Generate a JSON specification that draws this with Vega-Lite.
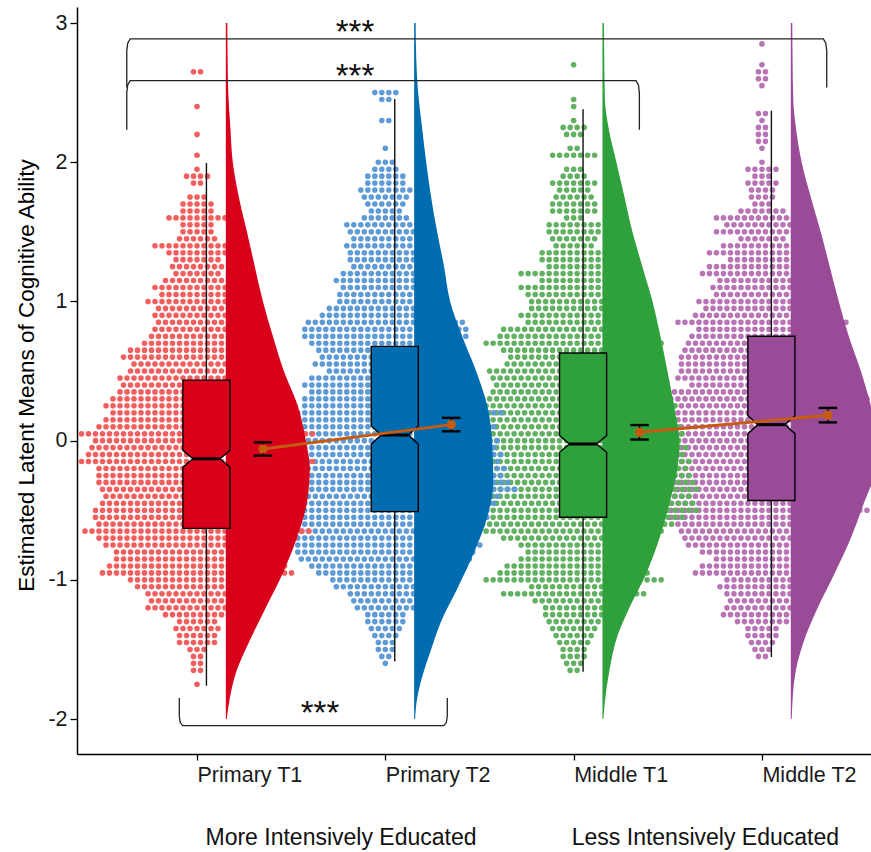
{
"$schema":"https://vega.github.io/schema/vega-lite/v6.json",
"width":794,"height":747,
"autosize":{"type":"none"},
"padding":{"left":77,"top":7,"right":0,"bottom":98},
"background":"white",
"config":{"view":{"stroke":null},"font":"Liberation Sans"},
"datasets":{
"dots":[
{"g":"Middle T2","y":2.85,"n":1},{"g":"Middle T2","y":2.7,"n":1},{"g":"Middle T2","y":2.65,"n":2},{"g":"Middle T2","y":2.6,"n":2},{"g":"Middle T2","y":2.55,"n":1},{"g":"Middle T2","y":2.35,"n":2},{"g":"Middle T2","y":2.3,"n":1},{"g":"Middle T2","y":2.25,"n":2},{"g":"Middle T2","y":2.2,"n":2},{"g":"Middle T2","y":2.15,"n":2},{"g":"Middle T2","y":2.1,"n":1},{"g":"Middle T2","y":2.0,"n":1},{"g":"Middle T2","y":1.95,"n":5},{"g":"Middle T2","y":1.9,"n":3},{"g":"Middle T2","y":1.85,"n":5},{"g":"Middle T2","y":1.8,"n":4},{"g":"Middle T2","y":1.75,"n":4},{"g":"Middle T2","y":1.7,"n":3},{"g":"Middle T2","y":1.65,"n":7},{"g":"Middle T2","y":1.6,"n":14},{"g":"Middle T2","y":1.55,"n":11},{"g":"Middle T2","y":1.5,"n":14},{"g":"Middle T2","y":1.45,"n":7},{"g":"Middle T2","y":1.4,"n":12},{"g":"Middle T2","y":1.35,"n":16},{"g":"Middle T2","y":1.3,"n":10},{"g":"Middle T2","y":1.25,"n":16},{"g":"Middle T2","y":1.2,"n":18},{"g":"Middle T2","y":1.15,"n":13},{"g":"Middle T2","y":1.1,"n":15},{"g":"Middle T2","y":1.05,"n":14},{"g":"Middle T2","y":1.0,"n":19},{"g":"Middle T2","y":0.95,"n":17},{"g":"Middle T2","y":0.9,"n":20},{"g":"Middle T2","y":0.85,"n":25},{"g":"Middle T2","y":0.8,"n":19},{"g":"Middle T2","y":0.75,"n":21},{"g":"Middle T2","y":0.7,"n":22},{"g":"Middle T2","y":0.65,"n":23},{"g":"Middle T2","y":0.6,"n":24},{"g":"Middle T2","y":0.55,"n":24},{"g":"Middle T2","y":0.5,"n":24},{"g":"Middle T2","y":0.45,"n":25},{"g":"Middle T2","y":0.4,"n":21},{"g":"Middle T2","y":0.35,"n":28},{"g":"Middle T2","y":0.3,"n":31},{"g":"Middle T2","y":0.25,"n":28},{"g":"Middle T2","y":0.2,"n":29},{"g":"Middle T2","y":0.15,"n":29},{"g":"Middle T2","y":0.1,"n":30},{"g":"Middle T2","y":0.05,"n":30},{"g":"Middle T2","y":0.0,"n":31},{"g":"Middle T2","y":-0.05,"n":30},{"g":"Middle T2","y":-0.1,"n":31},{"g":"Middle T2","y":-0.15,"n":30},{"g":"Middle T2","y":-0.2,"n":31},{"g":"Middle T2","y":-0.25,"n":30},{"g":"Middle T2","y":-0.3,"n":30},{"g":"Middle T2","y":-0.35,"n":29},{"g":"Middle T2","y":-0.4,"n":30},{"g":"Middle T2","y":-0.45,"n":29},{"g":"Middle T2","y":-0.5,"n":31},{"g":"Middle T2","y":-0.55,"n":27},{"g":"Middle T2","y":-0.6,"n":25},{"g":"Middle T2","y":-0.65,"n":24},{"g":"Middle T2","y":-0.7,"n":23},{"g":"Middle T2","y":-0.75,"n":22},{"g":"Middle T2","y":-0.8,"n":18},{"g":"Middle T2","y":-0.85,"n":14},{"g":"Middle T2","y":-0.9,"n":18},{"g":"Middle T2","y":-0.95,"n":20},{"g":"Middle T2","y":-1.0,"n":11},{"g":"Middle T2","y":-1.05,"n":13},{"g":"Middle T2","y":-1.1,"n":11},{"g":"Middle T2","y":-1.15,"n":10},{"g":"Middle T2","y":-1.2,"n":11},{"g":"Middle T2","y":-1.25,"n":12},{"g":"Middle T2","y":-1.3,"n":8},{"g":"Middle T2","y":-1.35,"n":5},{"g":"Middle T2","y":-1.4,"n":5},{"g":"Middle T2","y":-1.45,"n":4},{"g":"Middle T2","y":-1.5,"n":3},{"g":"Middle T2","y":-1.55,"n":2},
{"g":"Middle T1","y":2.7,"n":1},{"g":"Middle T1","y":2.45,"n":1},{"g":"Middle T1","y":2.4,"n":1},{"g":"Middle T1","y":2.3,"n":1},{"g":"Middle T1","y":2.25,"n":4},{"g":"Middle T1","y":2.2,"n":3},{"g":"Middle T1","y":2.1,"n":2},{"g":"Middle T1","y":2.05,"n":7},{"g":"Middle T1","y":1.95,"n":3},{"g":"Middle T1","y":1.9,"n":4},{"g":"Middle T1","y":1.85,"n":7},{"g":"Middle T1","y":1.8,"n":5},{"g":"Middle T1","y":1.75,"n":6},{"g":"Middle T1","y":1.7,"n":7},{"g":"Middle T1","y":1.65,"n":7},{"g":"Middle T1","y":1.6,"n":3},{"g":"Middle T1","y":1.55,"n":8},{"g":"Middle T1","y":1.5,"n":8},{"g":"Middle T1","y":1.45,"n":7},{"g":"Middle T1","y":1.4,"n":6},{"g":"Middle T1","y":1.35,"n":10},{"g":"Middle T1","y":1.3,"n":10},{"g":"Middle T1","y":1.25,"n":8},{"g":"Middle T1","y":1.2,"n":16},{"g":"Middle T1","y":1.15,"n":10},{"g":"Middle T1","y":1.1,"n":16},{"g":"Middle T1","y":1.05,"n":14},{"g":"Middle T1","y":1.0,"n":13},{"g":"Middle T1","y":0.95,"n":13},{"g":"Middle T1","y":0.9,"n":16},{"g":"Middle T1","y":0.85,"n":14},{"g":"Middle T1","y":0.8,"n":21},{"g":"Middle T1","y":0.75,"n":22},{"g":"Middle T1","y":0.7,"n":26},{"g":"Middle T1","y":0.65,"n":21},{"g":"Middle T1","y":0.6,"n":19},{"g":"Middle T1","y":0.55,"n":20},{"g":"Middle T1","y":0.5,"n":25},{"g":"Middle T1","y":0.45,"n":24},{"g":"Middle T1","y":0.4,"n":23},{"g":"Middle T1","y":0.35,"n":24},{"g":"Middle T1","y":0.3,"n":27},{"g":"Middle T1","y":0.25,"n":30},{"g":"Middle T1","y":0.2,"n":29},{"g":"Middle T1","y":0.15,"n":30},{"g":"Middle T1","y":0.1,"n":31},{"g":"Middle T1","y":0.05,"n":32},{"g":"Middle T1","y":0.0,"n":31},{"g":"Middle T1","y":-0.05,"n":33},{"g":"Middle T1","y":-0.1,"n":32},{"g":"Middle T1","y":-0.15,"n":34},{"g":"Middle T1","y":-0.2,"n":33},{"g":"Middle T1","y":-0.25,"n":34},{"g":"Middle T1","y":-0.3,"n":35},{"g":"Middle T1","y":-0.35,"n":36},{"g":"Middle T1","y":-0.4,"n":34},{"g":"Middle T1","y":-0.45,"n":35},{"g":"Middle T1","y":-0.5,"n":36},{"g":"Middle T1","y":-0.55,"n":32},{"g":"Middle T1","y":-0.6,"n":29},{"g":"Middle T1","y":-0.65,"n":26},{"g":"Middle T1","y":-0.7,"n":21},{"g":"Middle T1","y":-0.75,"n":16},{"g":"Middle T1","y":-0.8,"n":14},{"g":"Middle T1","y":-0.85,"n":16},{"g":"Middle T1","y":-0.9,"n":20},{"g":"Middle T1","y":-0.95,"n":22},{"g":"Middle T1","y":-1.0,"n":26},{"g":"Middle T1","y":-1.05,"n":13},{"g":"Middle T1","y":-1.1,"n":21},{"g":"Middle T1","y":-1.15,"n":12},{"g":"Middle T1","y":-1.2,"n":9},{"g":"Middle T1","y":-1.25,"n":9},{"g":"Middle T1","y":-1.3,"n":8},{"g":"Middle T1","y":-1.35,"n":7},{"g":"Middle T1","y":-1.4,"n":6},{"g":"Middle T1","y":-1.45,"n":5},{"g":"Middle T1","y":-1.5,"n":4},{"g":"Middle T1","y":-1.55,"n":4},{"g":"Middle T1","y":-1.6,"n":3},{"g":"Middle T1","y":-1.65,"n":2},
{"g":"Primary T2","y":2.5,"n":4},{"g":"Primary T2","y":2.45,"n":2},{"g":"Primary T2","y":2.3,"n":2},{"g":"Primary T2","y":2.1,"n":1},{"g":"Primary T2","y":2.0,"n":3},{"g":"Primary T2","y":1.95,"n":4},{"g":"Primary T2","y":1.9,"n":6},{"g":"Primary T2","y":1.85,"n":6},{"g":"Primary T2","y":1.8,"n":8},{"g":"Primary T2","y":1.75,"n":7},{"g":"Primary T2","y":1.7,"n":6},{"g":"Primary T2","y":1.65,"n":5},{"g":"Primary T2","y":1.6,"n":7},{"g":"Primary T2","y":1.55,"n":12},{"g":"Primary T2","y":1.5,"n":11},{"g":"Primary T2","y":1.45,"n":10},{"g":"Primary T2","y":1.4,"n":12},{"g":"Primary T2","y":1.35,"n":11},{"g":"Primary T2","y":1.3,"n":11},{"g":"Primary T2","y":1.25,"n":10},{"g":"Primary T2","y":1.2,"n":13},{"g":"Primary T2","y":1.15,"n":15},{"g":"Primary T2","y":1.1,"n":13},{"g":"Primary T2","y":1.05,"n":14},{"g":"Primary T2","y":1.0,"n":14},{"g":"Primary T2","y":0.95,"n":17},{"g":"Primary T2","y":0.9,"n":19},{"g":"Primary T2","y":0.85,"n":23},{"g":"Primary T2","y":0.8,"n":24},{"g":"Primary T2","y":0.75,"n":24},{"g":"Primary T2","y":0.7,"n":22},{"g":"Primary T2","y":0.65,"n":20},{"g":"Primary T2","y":0.6,"n":19},{"g":"Primary T2","y":0.55,"n":21},{"g":"Primary T2","y":0.5,"n":17},{"g":"Primary T2","y":0.45,"n":22},{"g":"Primary T2","y":0.4,"n":24},{"g":"Primary T2","y":0.35,"n":22},{"g":"Primary T2","y":0.3,"n":24},{"g":"Primary T2","y":0.25,"n":24},{"g":"Primary T2","y":0.2,"n":34},{"g":"Primary T2","y":0.15,"n":30},{"g":"Primary T2","y":0.1,"n":32},{"g":"Primary T2","y":0.05,"n":30},{"g":"Primary T2","y":0.0,"n":33},{"g":"Primary T2","y":-0.05,"n":32},{"g":"Primary T2","y":-0.1,"n":34},{"g":"Primary T2","y":-0.15,"n":33},{"g":"Primary T2","y":-0.2,"n":35},{"g":"Primary T2","y":-0.25,"n":34},{"g":"Primary T2","y":-0.3,"n":36},{"g":"Primary T2","y":-0.35,"n":38},{"g":"Primary T2","y":-0.4,"n":33},{"g":"Primary T2","y":-0.45,"n":32},{"g":"Primary T2","y":-0.5,"n":30},{"g":"Primary T2","y":-0.55,"n":30},{"g":"Primary T2","y":-0.6,"n":28},{"g":"Primary T2","y":-0.65,"n":27},{"g":"Primary T2","y":-0.7,"n":26},{"g":"Primary T2","y":-0.75,"n":28},{"g":"Primary T2","y":-0.8,"n":26},{"g":"Primary T2","y":-0.85,"n":25},{"g":"Primary T2","y":-0.9,"n":22},{"g":"Primary T2","y":-0.95,"n":20},{"g":"Primary T2","y":-1.0,"n":16},{"g":"Primary T2","y":-1.05,"n":15},{"g":"Primary T2","y":-1.1,"n":11},{"g":"Primary T2","y":-1.15,"n":10},{"g":"Primary T2","y":-1.2,"n":9},{"g":"Primary T2","y":-1.25,"n":6},{"g":"Primary T2","y":-1.3,"n":6},{"g":"Primary T2","y":-1.35,"n":5},{"g":"Primary T2","y":-1.4,"n":4},{"g":"Primary T2","y":-1.45,"n":3},{"g":"Primary T2","y":-1.5,"n":3},{"g":"Primary T2","y":-1.55,"n":2},{"g":"Primary T2","y":-1.6,"n":1},
{"g":"Primary T1","y":2.65,"n":2},{"g":"Primary T1","y":2.4,"n":1},{"g":"Primary T1","y":2.2,"n":1},{"g":"Primary T1","y":2.05,"n":1},{"g":"Primary T1","y":1.95,"n":1},{"g":"Primary T1","y":1.9,"n":4},{"g":"Primary T1","y":1.85,"n":2},{"g":"Primary T1","y":1.75,"n":3},{"g":"Primary T1","y":1.7,"n":5},{"g":"Primary T1","y":1.65,"n":5},{"g":"Primary T1","y":1.6,"n":9},{"g":"Primary T1","y":1.55,"n":5},{"g":"Primary T1","y":1.5,"n":5},{"g":"Primary T1","y":1.45,"n":6},{"g":"Primary T1","y":1.4,"n":13},{"g":"Primary T1","y":1.35,"n":9},{"g":"Primary T1","y":1.3,"n":7},{"g":"Primary T1","y":1.25,"n":8},{"g":"Primary T1","y":1.2,"n":7},{"g":"Primary T1","y":1.15,"n":10},{"g":"Primary T1","y":1.1,"n":13},{"g":"Primary T1","y":1.05,"n":11},{"g":"Primary T1","y":1.0,"n":15},{"g":"Primary T1","y":0.95,"n":12},{"g":"Primary T1","y":0.9,"n":13},{"g":"Primary T1","y":0.85,"n":12},{"g":"Primary T1","y":0.8,"n":13},{"g":"Primary T1","y":0.75,"n":14},{"g":"Primary T1","y":0.7,"n":16},{"g":"Primary T1","y":0.65,"n":20},{"g":"Primary T1","y":0.6,"n":22},{"g":"Primary T1","y":0.55,"n":19},{"g":"Primary T1","y":0.5,"n":20},{"g":"Primary T1","y":0.45,"n":23},{"g":"Primary T1","y":0.4,"n":22},{"g":"Primary T1","y":0.35,"n":23},{"g":"Primary T1","y":0.3,"n":25},{"g":"Primary T1","y":0.25,"n":27},{"g":"Primary T1","y":0.2,"n":25},{"g":"Primary T1","y":0.15,"n":27},{"g":"Primary T1","y":0.1,"n":29},{"g":"Primary T1","y":0.05,"n":34},{"g":"Primary T1","y":0.0,"n":30},{"g":"Primary T1","y":-0.05,"n":31},{"g":"Primary T1","y":-0.1,"n":32},{"g":"Primary T1","y":-0.15,"n":34},{"g":"Primary T1","y":-0.2,"n":29},{"g":"Primary T1","y":-0.25,"n":29},{"g":"Primary T1","y":-0.3,"n":29},{"g":"Primary T1","y":-0.35,"n":28},{"g":"Primary T1","y":-0.4,"n":27},{"g":"Primary T1","y":-0.45,"n":28},{"g":"Primary T1","y":-0.5,"n":30},{"g":"Primary T1","y":-0.55,"n":30},{"g":"Primary T1","y":-0.6,"n":29},{"g":"Primary T1","y":-0.65,"n":33},{"g":"Primary T1","y":-0.7,"n":29},{"g":"Primary T1","y":-0.75,"n":27},{"g":"Primary T1","y":-0.8,"n":24},{"g":"Primary T1","y":-0.85,"n":24},{"g":"Primary T1","y":-0.9,"n":26},{"g":"Primary T1","y":-0.95,"n":28},{"g":"Primary T1","y":-1.0,"n":20},{"g":"Primary T1","y":-1.05,"n":18},{"g":"Primary T1","y":-1.1,"n":15},{"g":"Primary T1","y":-1.15,"n":14},{"g":"Primary T1","y":-1.2,"n":15},{"g":"Primary T1","y":-1.25,"n":10},{"g":"Primary T1","y":-1.3,"n":6},{"g":"Primary T1","y":-1.35,"n":7},{"g":"Primary T1","y":-1.4,"n":6},{"g":"Primary T1","y":-1.45,"n":6},{"g":"Primary T1","y":-1.5,"n":3},{"g":"Primary T1","y":-1.55,"n":2},{"g":"Primary T1","y":-1.6,"n":2},{"g":"Primary T1","y":-1.65,"n":2},{"g":"Primary T1","y":-1.75,"n":1}
],
"violin":[
{"g":"Primary T1","y":-2.0,"d":0.005},{"g":"Primary T1","y":-1.85,"d":0.021},{"g":"Primary T1","y":-1.65,"d":0.058},{"g":"Primary T1","y":-1.45,"d":0.122},{"g":"Primary T1","y":-1.2,"d":0.212},{"g":"Primary T1","y":-0.95,"d":0.303},{"g":"Primary T1","y":-0.7,"d":0.377},{"g":"Primary T1","y":-0.45,"d":0.43},{"g":"Primary T1","y":-0.2,"d":0.446},{"g":"Primary T1","y":0.0,"d":0.425},{"g":"Primary T1","y":0.25,"d":0.382},{"g":"Primary T1","y":0.5,"d":0.308},{"g":"Primary T1","y":0.75,"d":0.25},{"g":"Primary T1","y":1.0,"d":0.197},{"g":"Primary T1","y":1.25,"d":0.154},{"g":"Primary T1","y":1.5,"d":0.112},{"g":"Primary T1","y":1.75,"d":0.069},{"g":"Primary T1","y":2.0,"d":0.037},{"g":"Primary T1","y":2.25,"d":0.024},{"g":"Primary T1","y":2.5,"d":0.013},{"g":"Primary T1","y":2.75,"d":0.0095},{"g":"Primary T1","y":3.0,"d":0.008},
{"g":"Primary T2","y":-2.0,"d":0.005},{"g":"Primary T2","y":-1.85,"d":0.016},{"g":"Primary T2","y":-1.7,"d":0.042},{"g":"Primary T2","y":-1.5,"d":0.09},{"g":"Primary T2","y":-1.3,"d":0.143},{"g":"Primary T2","y":-1.05,"d":0.234},{"g":"Primary T2","y":-0.8,"d":0.319},{"g":"Primary T2","y":-0.55,"d":0.388},{"g":"Primary T2","y":-0.3,"d":0.42},{"g":"Primary T2","y":0.0,"d":0.414},{"g":"Primary T2","y":0.25,"d":0.388},{"g":"Primary T2","y":0.5,"d":0.329},{"g":"Primary T2","y":0.75,"d":0.255},{"g":"Primary T2","y":1.0,"d":0.191},{"g":"Primary T2","y":1.25,"d":0.159},{"g":"Primary T2","y":1.5,"d":0.122},{"g":"Primary T2","y":1.75,"d":0.09},{"g":"Primary T2","y":2.0,"d":0.064},{"g":"Primary T2","y":2.25,"d":0.042},{"g":"Primary T2","y":2.5,"d":0.021},{"g":"Primary T2","y":2.75,"d":0.011},{"g":"Primary T2","y":3.0,"d":0.008},
{"g":"Middle T1","y":-2.0,"d":0.005},{"g":"Middle T1","y":-1.9,"d":0.011},{"g":"Middle T1","y":-1.65,"d":0.037},{"g":"Middle T1","y":-1.4,"d":0.08},{"g":"Middle T1","y":-1.2,"d":0.143},{"g":"Middle T1","y":-0.95,"d":0.234},{"g":"Middle T1","y":-0.7,"d":0.303},{"g":"Middle T1","y":-0.45,"d":0.356},{"g":"Middle T1","y":-0.2,"d":0.398},{"g":"Middle T1","y":0.0,"d":0.409},{"g":"Middle T1","y":0.15,"d":0.393},{"g":"Middle T1","y":0.5,"d":0.345},{"g":"Middle T1","y":0.75,"d":0.308},{"g":"Middle T1","y":1.0,"d":0.266},{"g":"Middle T1","y":1.25,"d":0.212},{"g":"Middle T1","y":1.5,"d":0.159},{"g":"Middle T1","y":1.75,"d":0.117},{"g":"Middle T1","y":2.0,"d":0.074},{"g":"Middle T1","y":2.25,"d":0.032},{"g":"Middle T1","y":2.45,"d":0.013},{"g":"Middle T1","y":2.75,"d":0.0095},{"g":"Middle T1","y":3.0,"d":0.008},
{"g":"Middle T2","y":-2.0,"d":0.005},{"g":"Middle T2","y":-1.9,"d":0.008},{"g":"Middle T2","y":-1.65,"d":0.027},{"g":"Middle T2","y":-1.4,"d":0.08},{"g":"Middle T2","y":-1.2,"d":0.143},{"g":"Middle T2","y":-0.95,"d":0.234},{"g":"Middle T2","y":-0.7,"d":0.319},{"g":"Middle T2","y":-0.45,"d":0.388},{"g":"Middle T2","y":-0.2,"d":0.451},{"g":"Middle T2","y":0.0,"d":0.457},{"g":"Middle T2","y":0.25,"d":0.425},{"g":"Middle T2","y":0.5,"d":0.372},{"g":"Middle T2","y":0.75,"d":0.308},{"g":"Middle T2","y":1.0,"d":0.255},{"g":"Middle T2","y":1.25,"d":0.207},{"g":"Middle T2","y":1.5,"d":0.159},{"g":"Middle T2","y":1.75,"d":0.106},{"g":"Middle T2","y":2.0,"d":0.058},{"g":"Middle T2","y":2.25,"d":0.027},{"g":"Middle T2","y":2.45,"d":0.013},{"g":"Middle T2","y":2.75,"d":0.0095},{"g":"Middle T2","y":3.0,"d":0.008}
],
"box":[
{"g":"Primary T1","q1":-0.63,"q3":0.435,"med":-0.13,"lo":-1.76,"hi":1.995,"notch":0.06},
{"g":"Primary T2","q1":-0.51,"q3":0.677,"med":0.04,"lo":-1.585,"hi":2.455,"notch":0.065},
{"g":"Middle T1","q1":-0.55,"q3":0.63,"med":-0.024,"lo":-1.66,"hi":2.38,"notch":0.06},
{"g":"Middle T2","q1":-0.43,"q3":0.75,"med":0.115,"lo":-1.555,"hi":2.37,"notch":0.065}
],
"means":[
{"g":"Primary T1","edu":"More","mean":-0.06,"lo":-0.108,"hi":-0.012},
{"g":"Primary T2","edu":"More","mean":0.115,"lo":0.067,"hi":0.164},
{"g":"Middle T1","edu":"Less","mean":0.06,"lo":0.008,"hi":0.112},
{"g":"Middle T2","edu":"Less","mean":0.182,"lo":0.131,"hi":0.235}
],
"brackets":[
{"b":1,"o":1,"x":0.627,"y":2.536},{"b":1,"o":2,"x":0.627,"y":2.8},{"b":1,"o":3,"x":0.632,"y":2.855},{"b":1,"o":4,"x":0.645,"y":2.886},{"b":1,"o":5,"x":4.326,"y":2.886},{"b":1,"o":6,"x":4.339,"y":2.855},{"b":1,"o":7,"x":4.344,"y":2.8},{"b":1,"o":8,"x":4.344,"y":2.536},
{"b":2,"o":1,"x":0.627,"y":2.234},{"b":2,"o":2,"x":0.627,"y":2.5},{"b":2,"o":3,"x":0.632,"y":2.555},{"b":2,"o":4,"x":0.645,"y":2.586},{"b":2,"o":5,"x":3.331,"y":2.586},{"b":2,"o":6,"x":3.344,"y":2.555},{"b":2,"o":7,"x":3.349,"y":2.5},{"b":2,"o":8,"x":3.349,"y":2.234},
{"b":3,"o":1,"x":0.906,"y":-1.848},{"b":3,"o":2,"x":0.906,"y":-1.98},{"b":3,"o":3,"x":0.911,"y":-2.025},{"b":3,"o":4,"x":0.924,"y":-2.047},{"b":3,"o":5,"x":2.311,"y":-2.047},{"b":3,"o":6,"x":2.324,"y":-2.025},{"b":3,"o":7,"x":2.329,"y":-1.98},{"b":3,"o":8,"x":2.329,"y":-1.848}
],
"stars":[
{"label":"***","x":1.839,"y":2.859},{"label":"***","x":1.839,"y":2.543},{"label":"***","x":1.653,"y":-2.033}
],
"edu":[
{"label":"More Intensively Educated","x":1.045,"y":-2.902},{"label":"Less Intensively Educated","x":2.99,"y":-2.902}
]
},
"encoding":{
"x":{"field":"xp","type":"quantitative","scale":{"domain":[0.3627,4.579],"nice":false,"zero":false},
 "axis":{"values":[1,2,3,4],"labelExpr":"['Primary T1','Primary T2','Middle T1','Middle T2'][datum.value-1]","title":null,"grid":false,"labelAlign":"left","labelBaseline":"top","labelPadding":4,"tickSize":6,"tickColor":"#000","tickWidth":1.3,"domainColor":"#000","domainWidth":1.5,"labelFontSize":21.5,"labelColor":"#1a1a1a","labelFlush":false,"labelOverlap":false,"labelBound":false}},
"y":{"field":"yp","type":"quantitative","scale":{"domain":[-2.251,3.115],"nice":false,"zero":false},
 "axis":{"values":[-2,-1,0,1,2,3],"labelExpr":"'' + datum.value","title":"Estimated Latent Means of Cognitive Ability","titleFontSize":22.5,"titleFontWeight":"normal","titleColor":"#000","titleX":-44,"titleY":368,"titleBaseline":"alphabetic","grid":false,"tickSize":7,"tickColor":"#000","tickWidth":1.3,"domainColor":"#000","domainWidth":1.5,"labelFontSize":21.5,"labelColor":"#1a1a1a","labelPadding":3}}
},
"layer":[
{"data":{"name":"dots"},
 "transform":[
  {"calculate":"indexof(['Primary T1','Primary T2','Middle T1','Middle T2'], datum.g) + 1","as":"pos"},
  {"calculate":"datum.pos - (datum.n - 1) * 0.018588","as":"xp"},
  {"calculate":"datum.pos + (datum.n - 1) * 0.018588 + 0.0004","as":"xe"},
  {"calculate":"datum.y","as":"yp"}],
 "mark":{"type":"rule","strokeWidth":5.6,"strokeCap":"round","strokeDash":[0,7]},
 "encoding":{"x2":{"field":"xe"},"stroke":{"field":"g","type":"nominal","scale":{"domain":["Primary T1","Primary T2","Middle T1","Middle T2"],"range":["#f35f5f","#5e9bd6","#62b062","#b874b5"]},"legend":null}}},
{"data":{"name":"violin"},
 "transform":[
  {"calculate":"indexof(['Primary T1','Primary T2','Middle T1','Middle T2'], datum.g) + 1","as":"pos"},
  {"calculate":"datum.pos + 0.153","as":"xp"},
  {"calculate":"datum.pos + 0.153 + datum.d","as":"xe"},
  {"calculate":"datum.y","as":"yp"}],
 "mark":{"type":"area","orient":"horizontal","interpolate":"monotone","clip":true},
 "encoding":{"x2":{"field":"xe"},"color":{"field":"g","type":"nominal","scale":{"domain":["Primary T1","Primary T2","Middle T1","Middle T2"],"range":["#d9001b","#006cb0","#2ea03c","#994b98"]},"legend":null}}},
{"data":{"name":"box"},
 "transform":[
  {"calculate":"indexof(['Primary T1','Primary T2','Middle T1','Middle T2'], datum.g) + 1","as":"pos"},
  {"calculate":"datum.pos + 0.05","as":"xp"},
  {"calculate":"datum.lo","as":"yp"},
  {"calculate":"datum.hi","as":"ye"}],
 "mark":{"type":"rule","color":"#111","strokeWidth":1.4},
 "encoding":{"y2":{"field":"ye"}}},
{"data":{"name":"box"},
 "transform":[
  {"calculate":"indexof(['Primary T1','Primary T2','Middle T1','Middle T2'], datum.g) + 1","as":"pos"},
  {"calculate":"datum.med + datum.notch","as":"nhi"},
  {"calculate":"datum.med - datum.notch","as":"nlo"},
  {"fold":["q1","nlo","med","nhi","q3"]},
  {"calculate":"datum.key == 'med' ? 0.072 : 0.125","as":"hw"},
  {"calculate":"datum.pos + 0.05 - datum.hw","as":"xp"},
  {"calculate":"datum.pos + 0.05 + datum.hw","as":"xe"},
  {"calculate":"datum.value","as":"yp"}],
 "mark":{"type":"area","orient":"horizontal","interpolate":"linear","stroke":"#000","strokeWidth":1.4},
 "encoding":{"x2":{"field":"xe"},"color":{"field":"g","type":"nominal","legend":null}}},
{"data":{"name":"box"},
 "transform":[
  {"calculate":"indexof(['Primary T1','Primary T2','Middle T1','Middle T2'], datum.g) + 1","as":"pos"},
  {"calculate":"datum.pos + 0.05 - 0.072","as":"xp"},
  {"calculate":"datum.pos + 0.05 + 0.072","as":"xe"},
  {"calculate":"datum.med","as":"yp"}],
 "mark":{"type":"rule","color":"#000","strokeWidth":3},
 "encoding":{"x2":{"field":"xe"}}},
{"data":{"name":"means"},
 "transform":[
  {"calculate":"indexof(['Primary T1','Primary T2','Middle T1','Middle T2'], datum.g) + 1","as":"pos"},
  {"calculate":"datum.pos + 0.35","as":"xp"},
  {"calculate":"datum.mean","as":"yp"}],
 "mark":{"type":"line","color":"#c55a11","strokeWidth":3},
 "encoding":{"detail":{"field":"edu"}}},
{"data":{"name":"means"},
 "transform":[
  {"calculate":"indexof(['Primary T1','Primary T2','Middle T1','Middle T2'], datum.g) + 1","as":"pos"},
  {"calculate":"datum.pos + 0.35","as":"xp"},
  {"calculate":"datum.lo","as":"yp"},
  {"calculate":"datum.hi","as":"ye"}],
 "mark":{"type":"rule","color":"#000","strokeWidth":1.5},
 "encoding":{"y2":{"field":"ye"}}},
{"data":{"name":"means"},
 "transform":[
  {"calculate":"indexof(['Primary T1','Primary T2','Middle T1','Middle T2'], datum.g) + 1","as":"pos"},
  {"fold":["lo","hi"]},
  {"calculate":"datum.pos + 0.35 - 0.049","as":"xp"},
  {"calculate":"datum.pos + 0.35 + 0.049","as":"xe"},
  {"calculate":"datum.value","as":"yp"}],
 "mark":{"type":"rule","color":"#000","strokeWidth":2.4},
 "encoding":{"x2":{"field":"xe"}}},
{"data":{"name":"means"},
 "transform":[
  {"calculate":"indexof(['Primary T1','Primary T2','Middle T1','Middle T2'], datum.g) + 1","as":"pos"},
  {"calculate":"datum.pos + 0.35","as":"xp"},
  {"calculate":"datum.mean","as":"yp"}],
 "mark":{"type":"circle","color":"#c55a11","size":85,"opacity":1}},
{"data":{"name":"brackets"},
 "transform":[{"calculate":"datum.x","as":"xp"},{"calculate":"datum.y","as":"yp"}],
 "mark":{"type":"line","color":"#222","strokeWidth":1.3},
 "encoding":{"detail":{"field":"b"},"order":{"field":"o","type":"quantitative"}}},
{"data":{"name":"stars"},
 "transform":[{"calculate":"datum.x","as":"xp"},{"calculate":"datum.y","as":"yp"}],
 "mark":{"type":"text","fontSize":33,"align":"center","baseline":"alphabetic","color":"#111"},
 "encoding":{"text":{"field":"label"}}},
{"data":{"name":"edu"},
 "transform":[{"calculate":"datum.x","as":"xp"},{"calculate":"datum.y","as":"yp"}],
 "mark":{"type":"text","fontSize":23,"align":"left","baseline":"alphabetic","color":"#111"},
 "encoding":{"text":{"field":"label"}}}
]
}
